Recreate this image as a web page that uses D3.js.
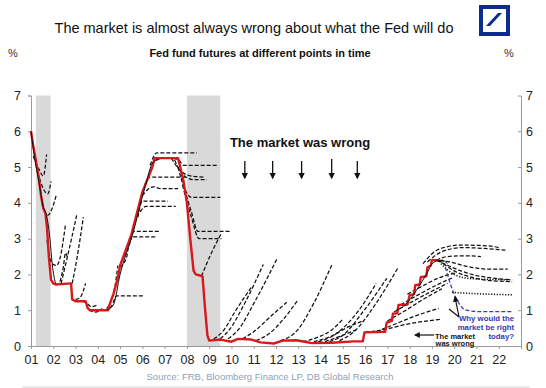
<!DOCTYPE html>
<html>
<head>
<meta charset="utf-8">
<script src="https://cdn.jsdelivr.net/npm/d3@7"></script>
<style>
  body { margin: 0; background: #fff; }
  svg { display: block; font-family: "Liberation Sans", Arial, sans-serif; }
</style>
</head>
<body>
<div id="chart"></div>
<script>
let w = 546;
let h = 388;

// fed funds rate (red line), [year, %]
const fedFunds = [[2001.0,6.0],[2001.1,5.6],[2001.2,5.25],[2001.35,4.7],[2001.45,4.2],[2001.55,3.85],[2001.65,3.7],
  [2001.72,3.3],[2001.8,2.5],[2001.9,1.85],[2002.0,1.75],[2002.1,1.72],[2002.8,1.75],[2002.85,1.3],[2003.0,1.25],
  [2003.45,1.25],[2003.55,1.05],[2003.65,1.0],[2004.45,1.0],[2004.55,1.2],[2004.7,1.45],[2004.9,1.9],[2005.0,2.25],
  [2005.5,3.1],[2006.0,4.3],[2006.45,5.0],[2006.55,5.25],[2007.6,5.25],[2007.7,5.0],[2007.85,4.6],[2008.0,4.0],
  [2008.15,3.0],[2008.3,2.1],[2008.4,2.0],[2008.7,1.95],[2008.82,1.0],[2008.92,0.3],[2009.0,0.15],[2009.5,0.18],
  [2010.0,0.12],[2010.3,0.2],[2010.9,0.18],[2011.3,0.1],[2011.9,0.07],[2012.3,0.15],[2012.9,0.16],[2013.3,0.12],
  [2013.6,0.08],[2014.5,0.09],[2015.5,0.13],[2015.9,0.13],[2015.97,0.38],[2016.9,0.4],[2016.97,0.65],[2017.2,0.7],
  [2017.25,0.9],[2017.45,0.92],[2017.5,1.15],[2017.9,1.16],[2018.0,1.42],[2018.2,1.45],[2018.25,1.7],[2018.45,1.72],
  [2018.5,1.92],[2018.75,1.95],[2018.8,2.2],[2018.95,2.25],[2019.0,2.4],[2019.3,2.4]];

// black solid spot line segments
const spotLine = [
  [[2001.0,6.0],[2001.15,5.3],[2001.35,4.6],[2001.55,3.9],[2001.7,3.65],[2001.85,3.0],[2001.95,2.3],[2002.1,1.75]],
  [[2004.4,1.0],[2004.7,1.15],[2005.0,2.0],[2005.6,3.2],[2006.1,4.4],[2006.5,5.15],[2006.7,5.2]],
  [[2017.4,1.0],[2017.8,1.15],[2018.3,1.55],[2018.7,1.95],[2019.1,2.35],[2019.45,2.4],[2019.7,2.3]]
];

// futures curves, [year, %]
const curves2001 = [
  [[2001.1,5.3],[2001.35,4.95],[2001.55,4.75],[2001.7,5.35]],
  [[2001.3,4.85],[2001.55,4.4],[2001.75,4.25],[2001.9,4.6]],
  [[2001.5,3.95],[2001.75,3.65],[2001.95,3.85],[2002.15,4.25]],
  [[2001.72,2.95],[2001.95,2.3],[2002.15,2.25],[2002.3,2.45],[2002.55,3.4]],
  [[2002.3,1.8],[2002.45,2.2],[2002.55,2.6],[2002.62,2.5]],
  [[2002.35,1.75],[2002.6,2.4],[2003.05,3.65]],
  [[2002.85,1.75],[2003.05,2.4],[2003.35,3.6]],
  [[2003.0,1.3],[2003.2,1.35],[2003.45,1.75]],
  [[2003.3,1.25],[2003.5,1.2],[2003.7,1.1],[2004.0,1.15]],
  [[2003.6,1.0],[2003.9,0.95],[2004.2,1.05]]
];
const curves2004 = [
  [[2004.3,1.0],[2004.6,1.1],[2004.85,1.4],[2006.1,1.4]],
  [[2004.4,1.05],[2004.75,1.6],[2004.9,2.25]],
  [[2005.0,2.2],[2005.3,2.5],[2005.45,3.05],[2006.6,3.05]],
  [[2005.2,2.5],[2005.5,3.0],[2005.6,3.2],[2006.8,3.2]],
  [[2005.8,3.6],[2006.0,4.05],[2007.15,4.05]],
  [[2005.9,3.75],[2006.15,3.9],[2007.5,3.9]],
  [[2006.0,4.2],[2006.3,4.4],[2006.5,4.45],[2006.8,4.4],[2007.6,4.4]],
  [[2006.1,4.5],[2006.35,4.72],[2007.95,4.72]],
  [[2006.35,5.05],[2006.65,5.4],[2007.6,5.4],[2008.45,5.4]],
  [[2006.6,5.2],[2007.0,5.25],[2007.6,5.22],[2007.85,5.05],[2009.35,5.05]]
];
const curves2007 = [
  [[2007.3,5.25],[2007.7,4.9],[2008.2,4.75],[2008.8,4.72]],
  [[2007.45,5.2],[2007.8,4.8],[2008.3,4.65],[2008.9,4.65]],
  [[2007.6,5.0],[2007.9,4.4],[2008.2,4.15],[2009.5,4.15]],
  [[2007.75,4.7],[2008.2,3.75],[2008.5,3.2],[2009.95,3.2]],
  [[2007.8,4.5],[2008.2,3.6],[2008.55,3.0],[2009.55,3.0]],
  [[2008.65,1.95],[2009.1,2.6],[2009.55,3.15]]
];
const curves2009 = [
  [[2009.2,0.2],[2009.6,0.4],[2010.2,1.0],[2010.9,1.65]],
  [[2009.5,0.2],[2009.9,0.45],[2010.6,1.2],[2011.43,2.28]],
  [[2009.85,0.2],[2010.3,0.45],[2011.1,1.3],[2012.03,2.42]],
  [[2010.5,0.2],[2011.0,0.4],[2011.8,0.85],[2012.48,1.22]],
  [[2011.1,0.15],[2011.7,0.35],[2012.4,0.8],[2013.0,1.3]],
  [[2012.2,0.15],[2012.9,0.4],[2013.7,1.2],[2014.5,2.26]],
  [[2013.2,0.12],[2013.9,0.25],[2014.5,0.45],[2015.0,0.75]],
  [[2013.7,0.12],[2014.5,0.28],[2015.3,0.55],[2015.9,0.7]],
  [[2013.9,0.12],[2014.6,0.3],[2015.6,0.9],[2016.5,1.75]],
  [[2014.2,0.12],[2015.0,0.3],[2015.6,0.45]],
  [[2014.4,0.12],[2015.0,0.3],[2015.9,0.95],[2016.97,1.89]],
  [[2014.85,0.15],[2015.5,0.4],[2016.5,1.2],[2017.5,2.21]]
];
const curves2016 = [
  [[2016.0,0.38],[2016.8,0.45],[2017.8,0.6],[2019.4,0.75]],
  [[2016.5,0.4],[2017.3,0.6],[2018.3,0.85],[2019.3,1.05]],
  [[2017.0,0.7],[2017.7,0.95],[2018.6,1.3],[2019.45,1.6]],
  [[2017.3,0.95],[2018.0,1.2],[2018.9,1.5],[2019.7,1.75]],
  [[2017.6,1.15],[2018.3,1.4],[2019.2,1.7],[2019.9,1.9]],
  [[2017.9,1.45],[2018.5,1.65],[2019.3,1.9],[2020.1,2.05]],
  [[2018.6,2.3],[2019.3,2.7],[2020.3,2.82],[2021.5,2.8],[2022.0,2.75]],
  [[2018.8,2.35],[2019.5,2.65],[2020.4,2.75],[2021.5,2.72],[2022.3,2.68]],
  [[2019.2,2.4],[2019.7,2.5],[2020.5,2.52],[2021.2,2.5]],
  [[2019.1,2.4],[2019.8,2.35],[2020.6,2.22],[2021.5,2.15],[2022.4,2.15]],
  [[2019.2,2.4],[2019.9,2.2],[2020.8,2.0],[2021.7,1.9],[2022.5,1.85]],
  [[2019.3,2.4],[2020.0,2.1],[2020.9,1.9],[2021.8,1.82],[2022.6,1.8]]
];
const dottedCurves = [
  [[2019.4,2.3],[2020.0,2.0],[2020.8,1.88],[2022.6,1.85]],
  [[2019.9,1.5],[2020.7,1.47],[2022.6,1.43]]
];
// today's curve (blue)
const todayCurve = [[2019.6,2.2],[2020.0,1.45],[2020.55,1.0],[2021.2,0.96],[2022.6,0.96]];

const recessions = [[2001.22, 2001.88], [2008.0, 2009.5]];
const yTicks = [0, 1, 2, 3, 4, 5, 6, 7];
const xTicks = d3.range(2001, 2023);
const arrowYears = [2010.6, 2011.85, 2013.15, 2014.5, 2015.65];

let viz = d3.select("#chart").append("svg")
  .attr("width", w)
  .attr("height", h);

viz.append("rect").attr("width", w).attr("height", h).attr("fill", "white");

let x = d3.scaleLinear().domain([2001, 2023]).range([31, 521]);
let y = d3.scaleLinear().domain([0, 7]).range([346, 95.5]);

// recession bands
viz.selectAll(".band").data(recessions).enter().append("rect")
  .attr("x", d => x(d[0]))
  .attr("width", d => x(d[1]) - x(d[0]))
  .attr("y", y(7))
  .attr("height", y(0) - y(7))
  .attr("fill", "#d9d9d9");

// axes
let axisColor = "#9a9a9a";
let left = viz.append("g").attr("transform", "translate(31,0)")
  .call(d3.axisLeft(y).tickValues(yTicks).tickFormat(d3.format("d")).tickSize(3).tickPadding(7));
let right = viz.append("g").attr("transform", "translate(521,0)")
  .call(d3.axisRight(y).tickValues(yTicks).tickFormat(d3.format("d")).tickSizeInner(-3).tickSizeOuter(0).tickPadding(5));
let bottom = viz.append("g").attr("transform", "translate(0,346)")
  .call(d3.axisBottom(x).tickValues(xTicks.concat([2023])).tickSizeInner(3).tickSizeOuter(0).tickPadding(6)
    .tickFormat(d => d === 2023 ? "" : String(d % 100).padStart(2, "0")));
[left, right, bottom].forEach(g => {
  g.select(".domain").attr("stroke", axisColor);
  g.selectAll(".tick line").attr("stroke", axisColor);
  g.selectAll("text").attr("fill", "#222").attr("font-size", 12.5)
    .attr("font-family", "Liberation Sans, Arial, sans-serif");
});

// futures curves
let curveLine = d3.line()
  .x(d => x(d[0]))
  .y(d => y(d[1]))
  .curve(d3.curveMonotoneX);

let allDashed = curves2001.concat(curves2004, curves2007, curves2009, curves2016);
viz.append("g").selectAll("path").data(allDashed).enter().append("path")
  .attr("d", curveLine)
  .attr("fill", "none")
  .attr("stroke", "#111")
  .attr("stroke-width", 1.25)
  .attr("stroke-dasharray", "4,2");

viz.append("g").selectAll("path").data(dottedCurves).enter().append("path")
  .attr("d", curveLine)
  .attr("fill", "none")
  .attr("stroke", "#111")
  .attr("stroke-width", 1.5)
  .attr("stroke-dasharray", "1.2,1.6");

// fed funds
let plainLine = d3.line().x(d => x(d[0])).y(d => y(d[1]));
viz.append("path")
  .attr("d", plainLine(fedFunds))
  .attr("fill", "none")
  .attr("stroke", "#d7191c")
  .attr("stroke-width", 2.4)
  .attr("stroke-linejoin", "round");

viz.append("g").selectAll("path").data(spotLine).enter().append("path")
  .attr("d", curveLine)
  .attr("fill", "none")
  .attr("stroke", "#111")
  .attr("stroke-width", 1);

viz.append("path")
  .attr("d", curveLine(todayCurve))
  .attr("fill", "none")
  .attr("stroke", "#3b3bb5")
  .attr("stroke-width", 1.25)
  .attr("stroke-dasharray", "4,2");

// arrow marker
viz.append("defs").append("marker")
  .attr("id", "head")
  .attr("viewBox", "0 0 10 10")
  .attr("refX", 8).attr("refY", 5)
  .attr("markerWidth", 5).attr("markerHeight", 5)
  .attr("orient", "auto")
  .append("path").attr("d", "M0,0 L10,5 L0,10 z").attr("fill", "#111");

// "The market was wrong" + arrows
viz.append("text")
  .attr("x", 300).attr("y", 147)
  .attr("text-anchor", "middle")
  .attr("font-weight", "bold")
  .attr("font-size", 13)
  .attr("fill", "#111")
  .text("The market was wrong");

viz.selectAll(".arr").data(arrowYears).enter().append("line")
  .attr("x1", d => x(d)).attr("x2", d => x(d))
  .attr("y1", (d, i) => i === 3 ? 159 : 161).attr("y2", 178)
  .attr("stroke", "#111").attr("stroke-width", 1.3)
  .attr("marker-end", "url(#head)");

// bottom-right annotations
viz.append("line")
  .attr("x1", 434).attr("y1", 335).attr("x2", 415).attr("y2", 335)
  .attr("stroke", "#111").attr("stroke-width", 1.2)
  .attr("marker-end", "url(#head)");
viz.append("line")
  .attr("x1", 459).attr("y1", 317).attr("x2", 455).attr("y2", 297)
  .attr("stroke", "#111").attr("stroke-width", 1.2)
  .attr("marker-end", "url(#head)");
viz.append("line")
  .attr("x1", 459).attr("y1", 317).attr("x2", 449).attr("y2", 309)
  .attr("stroke", "#111").attr("stroke-width", 1.2);

let wrongNote = viz.append("text")
  .attr("text-anchor", "middle")
  .attr("font-weight", "bold")
  .attr("font-size", 7.5)
  .attr("fill", "#111");
wrongNote.append("tspan").attr("x", 455).attr("y", 338.5).text("The market");
wrongNote.append("tspan").attr("x", 455).attr("y", 346).text("was wrong");

let whyNote = viz.append("text")
  .attr("text-anchor", "end")
  .attr("font-weight", "bold")
  .attr("font-size", 7.8)
  .attr("fill", "#3636b0");
whyNote.append("tspan").attr("x", 514).attr("y", 320.5).text("Why would the");
whyNote.append("tspan").attr("x", 514).attr("y", 329.5).text("market be right");
whyNote.append("tspan").attr("x", 514).attr("y", 338.5).text("today?");

// titles
viz.append("text")
  .attr("x", 254).attr("y", 33)
  .attr("text-anchor", "middle")
  .attr("font-size", 14.5)
  .attr("fill", "#111")
  .text("The market is almost always wrong about what the Fed will do");

viz.append("text")
  .attr("x", 260).attr("y", 57)
  .attr("text-anchor", "middle")
  .attr("font-size", 11)
  .attr("font-weight", "bold")
  .attr("fill", "#111")
  .text("Fed fund futures at different points in time");

viz.append("text").attr("x", 13).attr("y", 57).attr("text-anchor", "middle")
  .attr("font-size", 11).attr("fill", "#333").text("%");
viz.append("text").attr("x", 509).attr("y", 57).attr("text-anchor", "middle")
  .attr("font-size", 11).attr("fill", "#333").text("%");

// logo
let logo = viz.append("g");
logo.append("rect")
  .attr("x", 481).attr("y", 7).attr("width", 27).attr("height", 27)
  .attr("fill", "white").attr("stroke", "#0d2c8f").attr("stroke-width", 4);
logo.append("path")
  .attr("d", "M486,26 L490,26 L502,13 L498,13 Z")
  .attr("fill", "#0d2c8f");

// source
viz.append("text")
  .attr("x", 270).attr("y", 380)
  .attr("text-anchor", "middle")
  .attr("font-size", 9.5)
  .attr("fill", "#8f9fb8")
  .text("Source: FRB, Bloomberg Finance LP, DB Global Research");

viz.append("line")
  .attr("x1", 22).attr("x2", 530).attr("y1", 387).attr("y2", 387)
  .attr("stroke", "#e3e3e3").attr("stroke-width", 1.5);
</script>
</body>
</html>
